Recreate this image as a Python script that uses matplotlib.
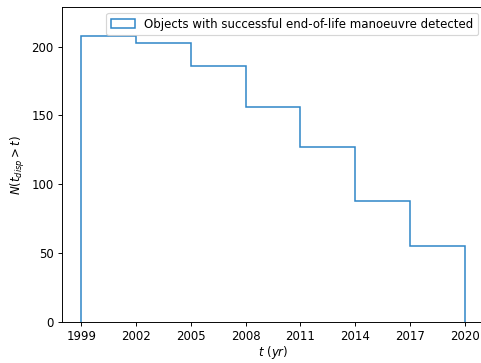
import matplotlib
matplotlib.use("Agg")
import matplotlib.pyplot as plt
import numpy as np

# bin edges (years) and number of objects still drifting past each epoch
bin_edges = [1999, 2002, 2005, 2008, 2011, 2014, 2017, 2020]
counts = [208, 203, 186, 156, 127, 88, 55]
year_ticks = [1999, 2002, 2005, 2008, 2011, 2014, 2017, 2020]

DPI = 85
fig = plt.figure(figsize=(481 / DPI, 363 / DPI), dpi=DPI)
ax = fig.add_axes([0.1289, 0.1129, 0.877, 0.8678])

ax.hist(bin_edges[:-1], bins=bin_edges, weights=counts, histtype='step',
        color='#2f86c8', linewidth=1.3,
        label='Objects with successful end-of-life manoeuvre detected')

ax.set_xlim(1997.95, 2021.05)
ax.set_ylim(0, 228.8)
ax.set_xticks(year_ticks)
ax.set_yticks([0, 50, 100, 150, 200])
ax.set_xlabel(r'$t\ (yr)$', labelpad=1)
ax.set_ylabel(r'$N(t_{disp} > t)$')
ax.legend(loc='upper right')

fig.savefig('out.png', dpi=DPI)
